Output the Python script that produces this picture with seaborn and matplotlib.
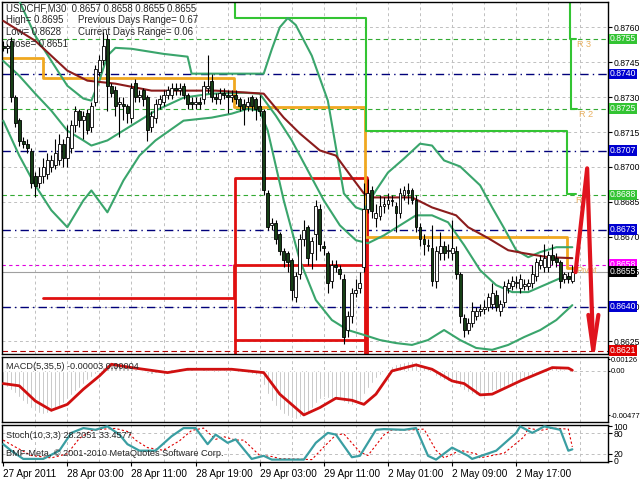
import numpy as np
import pandas as pd
import seaborn as sns
import matplotlib
matplotlib.use("Agg")
import matplotlib.pyplot as plt
from matplotlib.transforms import blended_transform_factory

# ---------------- data (prices as pips above 0.8600) ----------------
BASE = 0.8600
PIP = 0.0001
opens = [152,151,154,130,120,111,110,107,96,93,96,97,100,101,103,110,104,108,118,124,
         120,123,117,128,141,146,155,135,133,127,127,126,121,136,130,133,130,117,121,127,
         128,131,131,134,133,135,131,128,127,128,129,134,137,130,129,132,131,130,131,129,
         127,126,130,129,126,124,89,75,76,71,64,63,60,44,54,69,74,63,71,82,
         66,63,51,58,56,52,30,36,46,48,57,82,90,78,79,83,84,86,83,80,
         88,90,90,86,74,69,66,65,51,63,66,64,63,64,54,35,30,33,36,38,
         39,40,41,45,38,42,48,49,50,48,49,49,50,53,58,57,57,62,61,59,
         52,53,51]
closes = [151,152,130,119,111,110,108,93,92,96,100,103,103,106,110,104,113,118,124,120,
          122,116,126,142,146,152,135,132,126,128,126,123,134,130,131,129,116,122,127,129,
          131,133,134,133,134,131,127,127,128,127,135,135,130,129,132,131,130,131,129,126,
          125,128,126,125,124,90,74,76,69,64,60,59,47,53,69,73,61,68,83,67,
          65,50,58,57,54,27,36,46,47,50,82,89,81,80,83,84,86,85.5,80,89,
          90,89,86,74,69,67,66.5,51,64,66,63,64.5,65,54,36,30,33,38,38,39,
          40,44,46,40,41,49,50,51,50.5,52,49.5,50,54,59,60,61,62,60,59,51,
          54,52,55]
highs = [154,153,156,131,121,113,112,108,98,100,104,106,105,112,114,112,118,120,126,125,
         124,125,128,144,148,158,157,136,135,130,130,127,136,138,133,134,131,124,129,131,
         133,135,136,136,136,136,132,130,130,130,137,148,140,132,134,134,133,133,133,130,
         129,130,131,130,131,125,90,78,77,72,65,64,61,55,71,77,75,70,86,84,
         68,64,60,60,58,54,38,48,52,55,93,95,92,84,88,87,89,88,85,91,
         92,93,91,88,76,71,69,75,66,72,68,67,77,66,55,37,35,42,40,41,
         43,46,50,47,43,51,52,53,53,54,52,52,58,61,62,67,64,67,63,60,
         55,55,58]
lows = [150,149,128,117,109,108,106,91,87,91,93,95,98,99,101,100,100,106,115,117,
        112,114,115,126,139,144,124,130,122,113,120,119,119,128,128,126,111,115,119,125,
        126,129,129,131,131,129,125,125,125,125,127,132,128,127,127,129,123,128,127,124,
        118,124,124,120,122,88,73,73,67,62,57,55,43,42,52,66,58,56,60,64,
        62,46,48,55,52,24,27,33,44,46,55,80,78,74,77,80,82,83,72,78,
        86,84,84,72,66,62,64,49,48,60,60,61,60,52,33,27,28,31,34,36,
        37,38,39,38,36,40,46,47,48,46,47,47,48,51,56,55,55,58,57,48,
        50,50,50]

# Bollinger bands (bar index, pips)
ub_bar = [0,4,8,12,16,20,22,24,26,28,32,40,46,47,65,67,69,71,73,77,81,85,88,90,93,96,100,104,107,110,114,119,122,125,128,131,134,138,142]
ub_val = [188.5,171.4,156.4,145.6,134.9,129.4,128.5,137.1,147.8,151.2,150.8,148.6,147.4,140.1,140.1,150.5,160.0,164.0,161.0,147.8,128.5,88.6,82.6,81.4,89.9,97.6,103.6,110.0,109.2,102.8,100.2,92.1,82.6,73.6,64.2,61.2,63.4,65.5,65.5]
mb_bar = [0,4,8,12,16,20,22,26,32,38,45,52,60,64,68,72,76,80,84,88,91,95,99,103,107,111,115,119,123,127,131,135,139,142]
mb_val = [145.6,139.2,131.5,124.2,115.6,111.4,109.2,111.4,117.8,124.2,129.8,131.5,131.9,131.5,122.1,111.4,98.5,85.6,74.9,68.5,67.2,70.6,74.9,79.2,79.2,76.2,66.4,55.6,49.2,46.2,46.2,49.2,52.2,52.6]
lb_bar = [0,4,8,12,16,20,22,26,30,34,38,45,52,57,61,64,66,70,74,78,82,86,90,94,98,102,106,110,114,118,122,126,130,134,138,142]
lb_val = [119.9,104.9,92.1,81.4,74.1,85.6,89.9,80.5,94.2,104.9,111.4,119.9,121.2,122.9,125.0,124.2,115.6,85.6,59.9,42.8,34.2,29.9,27.8,25.6,24.3,23.5,25.6,29.9,25.6,22.2,21.4,23.5,26.9,29.9,34.2,40.6]
# slow moving average
ma_bar = [0,8,16,21,28,37,53,65,70,74,79,83,87,90,92,102,107,113,116,121,126,130,136,142]
ma_val = [162.8,154.2,141.4,137.1,135.8,132.8,132.8,131.5,121.2,114.4,107.1,104.9,95.5,88.6,86.9,86.9,82.6,79.2,74.1,69.4,64.2,62.9,61.2,60.8]

# daily pivot line (orange), steps at day boundaries
piv_bar = [0,10,10,57.5,57.5,90.3,90.3,140.6,140.6,142.8]
piv_val = [146.9,146.9,138.4,138.4,125.9,125.9,69.8,69.8,56.5,56.5]
# previous-day red lines
red_step_bar = [10,57.5,57.5,90.3]
red_step_val = [43.6,43.6,57.8,57.8]
box_left, box_right, box_top, box_bot = 57.8, 90.4, 95.1, 25.6
# resistance line R1 (bright green), steps at day boundaries
r_bar = [57.8,57.8,90.5,90.5,140.6,140.6,142.8]
r_val = [175.0,164.0,164.0,115.6,115.6,88.5,88.5]
r3_bar = [141.3,141.3,143.0]
r3_val = [175.0,155.0,155.0]
r2_bar = [141.6,141.6,143.2]
r2_val = [155.0,125.0,125.0]
# forecast arrow
arrow_bar = [142.8,145.7,147.2]
arrow_val = [54.8,99.4,21.4]
arrow_head_bar = [146.0,147.2,148.5]
arrow_head_val = [36.4,21.4,36.4]

# level lines
blue_levels = [0.8740, 0.8707, 0.8673, 0.8640]
green_levels = [0.8755, 0.8725, 0.8688]
pivot_level = 0.8658
bid_level = 0.8655
low_level = 0.8621
tick_levels = [0.8625,0.8640,0.8655,0.8670,0.8685,0.8700,0.8715,0.8730,0.8745,0.8760]
label_boxes = [(0.8755,'#33c433'),(0.8740,'#0000d0'),(0.8725,'#33c433'),(0.8707,'#0000d0'),
               (0.8688,'#33c433'),(0.8673,'#0000d0'),(0.8658,'#ff00ff'),(0.8655,'#000000'),
               (0.8640,'#0000d0'),(0.8621,'#e00000')]

# MACD histogram (x1e-5) and signal key points
macd_hist = [-150,-170,-200,-240,-280,-320,-360,-400,-430,-450,-460,-455,-440,-410,-380,-340,-300,-260,-220,-180,
             -140,-100,-60,-30,0,40,80,100,95,80,60,40,30,20,10,0,-20,-30,-20,-10,
             0,10,20,25,30,30,25,20,15,15,20,25,25,20,20,20,15,10,5,0,
             -10,-20,-30,-40,-60,-150,-250,-320,-380,-420,-460,-490,-510,-520,-500,-470,-440,-400,-340,-300,
             -280,-290,-300,-290,-290,-330,-360,-370,-350,-320,-250,-180,-130,-80,-40,-10,20,50,70,90,
             100,110,110,100,80,60,30,-10,-50,-80,-100,-110,-120,-140,-170,-200,-230,-250,-260,-260,
             -250,-240,-220,-200,-190,-170,-150,-130,-110,-100,-80,-60,-40,-20,0,20,30,40,40,30,
             20,10,-3]
macd_sig_bar = [0,4,8,12,16,20,24,27,32,41,46,57,65,69,75,79,83,87,90,93,97,103,107,112,115,119,122,129,137,141,142]
macd_sig_val = [-136,-160,-323,-424,-360,-197,-54,72,36,-18,18,18,-18,-250,-474,-395,-294,-316,-360,-250,0,65,18,-108,-136,-258,-250,-108,36,30,7]

# Stochastic key points
st_bar = [0,2,5,10,14,17,20,23,26,29,31,34,38,42,45,48,51,53,56,58,62,65,67,75,78,81,83,87,89,93,95,100,103,106,108,112,116,117,123,128,129,132,135,139,141,142]
st_main = [48,29,5,5,29,81,95,90,100,76,48,29,29,71,95,95,48,76,52,62,5,14,3,3,52,81,76,10,14,90,92,90,95,14,3,38,14,5,29,81,100,81,100,90,29,33]
st_sig_bar = [0,3,7,12,16,19,22,25,28,31,33,36,40,44,47,50,53,55,58,60,64,67,69,77,80,83,85,89,91,95,97,102,105,108,110,114,118,119,125,130,131,134,137,141,142]
st_sig = [60,40,15,8,20,65,88,92,94,85,60,38,30,58,88,95,62,70,60,60,15,12,6,3,40,75,78,25,15,75,90,90,92,30,8,30,20,8,22,70,95,88,95,92,40]

xt_pos = [0,16,32,48,64,80,96,112,128]
xt_lab = ["27 Apr 2011","28 Apr 03:00","28 Apr 11:00","28 Apr 19:00","29 Apr 03:00",
          "29 Apr 11:00","2 May 01:00","2 May 09:00","2 May 17:00"]

# ---------------- drawing ----------------
sns.set_theme(style="white")
plt.rcParams['font.family'] = ['Liberation Sans', 'DejaVu Sans']
FS = 6.6
FSR = 6.2

fig = plt.figure(figsize=(6.4, 4.8), dpi=100)
W = 606/640
ax = fig.add_axes([2/640, 1-354/480, W, 352/480])
axm = fig.add_axes([2/640, 1-422/480, W, 65/480])
axs = fig.add_axes([2/640, 1-462/480, W, 37/480])

XL = (-0.3, 150.9)
grid_kw = dict(color='#c0c0c0', lw=0.7, ls=(0, (3, 3)), zorder=0)

def p(v):
    return BASE + np.asarray(v, dtype=float)*PIP

def line(a, xs, ys, **kw):
    sns.lineplot(x=list(xs), y=list(ys), ax=a, estimator=None, sort=False, legend=False, **kw)

# main chart
ax.set_xlim(*XL)
ax.set_ylim(0.86196, 0.87709)
for b in range(8, 151, 8):
    ax.axvline(b, **grid_kw)
for t in tick_levels:
    ax.axhline(t, **grid_kw)

for lv in blue_levels:
    ax.axhline(lv, color='#00007a', lw=1.0, ls=(0, (6, 3, 1, 3)), zorder=1)
for lv in green_levels:
    ax.axhline(lv, color='#33aa33', lw=0.8, ls=(0, (4, 3)), zorder=1)
ax.axhline(pivot_level, color='#e000e0', lw=0.8, ls=(0, (3, 3)), zorder=1)
ax.axhline(bid_level, color='#a0a0a0', lw=0.8, zorder=1)
ax.axhline(low_level, color='#b00000', lw=0.8, ls=(0, (5, 3)), zorder=1)

# red previous-day box and step
RED = '#e01010'
line(ax, [box_left, box_left, box_right], p([box_bot-7, box_top, box_top]), color=RED, lw=2.0, zorder=2)
line(ax, [box_left, box_right], p([box_bot, box_bot]), color=RED, lw=2.0, zorder=2)
line(ax, [box_right, box_right], p([box_bot-7, box_top]), color=RED, lw=3.5, zorder=2)
line(ax, red_step_bar, p(red_step_val), color=RED, lw=2.0, zorder=2)

# pivot / resistance step lines
line(ax, piv_bar, p(piv_val), color='#f0a820', lw=2.0, zorder=2)
for xb, yv in [(r_bar, r_val), (r3_bar, r3_val), (r2_bar, r2_val)]:
    line(ax, xb, p(yv), color='#33c433', lw=1.5, zorder=2)

# bands and MA
for xb, yv in [(ub_bar, ub_val), (mb_bar, mb_val), (lb_bar, lb_val)]:
    line(ax, xb, p(yv), color='#3aa56c', lw=1.5, zorder=3)
line(ax, ma_bar, p(ma_val), color='#8b1c1c', lw=1.5, zorder=3)

# candles
bars = np.arange(len(closes))
o, c, h, l = p(opens), p(closes), p(highs), p(lows)
ax.vlines(bars, l, h, color='black', lw=0.8, zorder=4)
up = c >= o
body = np.maximum(np.abs(c - o), 0.000006)
ax.bar(bars, body, bottom=np.minimum(o, c), width=0.72,
       color=np.where(up, 'white', '#163f16'), edgecolor='black', linewidth=0.6, zorder=5)

# forecast arrow
line(ax, arrow_bar, p(arrow_val), color='#e0141e', lw=3.0, zorder=6)
line(ax, arrow_head_bar, p(arrow_head_val), color='#e0141e', lw=3.0, zorder=6)

# level texts on chart
tc = '#e8b060'
ax.text(143.2, 0.87525, 'R 3', color=tc, fontsize=FS, va='center')
ax.text(143.6, 0.87225, 'R 2', color=tc, fontsize=FS, va='center')
ax.text(142.8, 0.86855, 'R', color=tc, fontsize=FS, va='center')
ax.text(143.0, 0.86557, 'Pivot', color=tc, fontsize=FS, va='center')

# header text
ax.text(0.006, 0.995, "USDCHF,M30  0.8657 0.8658 0.8655 0.8655", transform=ax.transAxes, fontsize=FS+0.3, va='top')
ax.text(0.006, 0.962, "High= 0.8695", transform=ax.transAxes, fontsize=FS+0.3, va='top')
ax.text(0.125, 0.962, "Previous Days Range= 0.67", transform=ax.transAxes, fontsize=FS+0.3, va='top')
ax.text(0.006, 0.929, "Low= 0.8628", transform=ax.transAxes, fontsize=FS+0.3, va='top')
ax.text(0.125, 0.929, "Current Days Range= 0.06", transform=ax.transAxes, fontsize=FS+0.3, va='top')
ax.text(0.006, 0.896, "Close= 0.8651", transform=ax.transAxes, fontsize=FS+0.3, va='top')

# right axis
ax.yaxis.tick_right()
ax.set_yticks(tick_levels)
ax.set_yticklabels([f"{t:.4f}" for t in tick_levels])
ax.set_xticks([])
ax.tick_params(axis='y', labelsize=FSR, length=3, width=0.8, pad=1.2, direction='out', colors='black', right=True)
bt = blended_transform_factory(ax.transAxes, ax.transData)
for lv, col in label_boxes:
    ax.text(1.0035, lv, f"{lv:.4f}", transform=bt, fontsize=FSR, color='white', va='center', ha='left',
            bbox=dict(boxstyle='square,pad=0.1', fc=col, ec='none'), zorder=10, clip_on=False)

# MACD panel
axm.set_xlim(*XL)
axm.set_ylim(-0.0055, 0.0015)
for b in range(8, 151, 8):
    axm.axvline(b, **grid_kw)
axm.axhline(0, **grid_kw)
axm.bar(bars, np.array(macd_hist)*1e-5, width=0.55, color='#aaaaaa', zorder=2)
line(axm, macd_sig_bar, np.array(macd_sig_val)*1e-5, color='#d01010', lw=2.0, zorder=3)
axm.text(0.006, 0.93, "MACD(5,35,5) -0.00003 0.00004", transform=axm.transAxes, fontsize=FS, va='top')
axm.yaxis.tick_right()
axm.set_yticks([0.00126, 0.0, -0.00477])
axm.set_yticklabels(["0.00126", "0.00", "-0.00477"])
axm.set_xticks([])
axm.tick_params(axis='y', labelsize=5.4, length=1.5, width=0.8, pad=0.5, colors='black', right=True)

# Stochastic panel
axs.set_xlim(*XL)
axs.set_ylim(-4, 104)
for b in range(8, 151, 8):
    axs.axvline(b, **grid_kw)
for lv in [20, 80]:
    axs.axhline(lv, **grid_kw)
line(axs, st_sig_bar, st_sig, color='#e00000', lw=0.8, ls=(0, (2, 2)), zorder=2)
line(axs, st_bar, st_main, color='#3a9ea2', lw=1.6, zorder=3)
axs.text(0.006, 0.83, "Stoch(10,3,3) 28.2051 33.4577", transform=axs.transAxes, fontsize=FS, va='top')
axs.text(0.006, 0.36, "BMF-Meta, \u00a9 2001-2010 MetaQuotes Software Corp.", transform=axs.transAxes, fontsize=FS, va='top')
axs.yaxis.tick_right()
axs.set_yticks([100, 80, 20, 0])
axs.set_yticklabels(["100", "80", "20", "0"])
axs.set_xticks(xt_pos)
axs.set_xticklabels(xt_lab, ha='left')
axs.tick_params(axis='y', labelsize=FSR, length=3, width=0.8, pad=1.2, colors='black', right=True)
axs.tick_params(axis='x', labelsize=7.2, length=3, width=0.8, pad=2, colors='black', bottom=True)

for a in (ax, axm, axs):
    a.set_xlabel('')
    a.set_ylabel('')
    a.grid(False)
    for s in a.spines.values():
        s.set_color('black')
        s.set_linewidth(1.0)

fig.savefig("out.png", dpi=100, facecolor='white')
